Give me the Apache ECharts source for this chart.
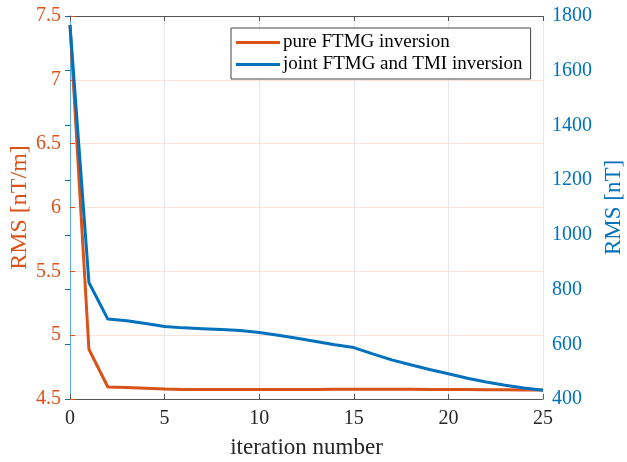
<!DOCTYPE html>
<html>
<head>
<meta charset="utf-8">
<script src="https://cdn.jsdelivr.net/npm/echarts@6/dist/echarts.min.js"></script>
<style>html,body{margin:0;padding:0;background:#fff}#c{width:627px;height:462px}</style>
</head>
<body>
<div id="c"></div>
<script>
const iterations = [0,1,2,3,4,5,6,7,8,9,10,11,12,13,14,15,16,17,18,19,20,21,22,23,24,25];
const pureFTMG = [7.43,4.89,4.594,4.59,4.585,4.578,4.575,4.574,4.574,4.574,4.574,4.574,4.575,4.575,4.576,4.576,4.576,4.576,4.576,4.575,4.575,4.574,4.573,4.572,4.571,4.570];
const jointFTMG_TMI = [1767,826,692,686,676,665,660,657,654,650,643,633,622,610,598,588,565,543,525,508,492,476,462,450,440,432];
const xTicks = {min:0,max:25,interval:5};
const leftTicks = {min:4.5,max:7.5,interval:0.5};
const rightTicks = {min:400,max:1800,interval:200};
const names = ['pure FTMG inversion','joint FTMG and TMI inversion'];

const ORANGE = '#D95319', BLUE = '#0072BD';
const serif = 'Liberation Serif';
const chart = echarts.init(document.getElementById('c'), null, {renderer:'canvas'});
chart.setOption({
  animation:false,
  backgroundColor:'#fff',
  grid:{left:70,right:84,top:16,bottom:63,containLabel:false,outerBoundsMode:'none'},
  legend:{
    data:[{name:names[0],icon:'rect'},{name:names[1],icon:'rect'}],
    orient:'vertical',left:231,top:28,
    itemWidth:44,itemHeight:3,itemGap:3,
    padding:[5,8,5,5],
    borderColor:'#444',borderWidth:1,backgroundColor:'#fff',
    textStyle:{fontFamily:serif,fontSize:19,color:'#000',padding:[0,0,0,-2]}
  },
  xAxis:[{
    type:'value',min:xTicks.min,max:xTicks.max,interval:xTicks.interval,
    name:'iteration number',nameLocation:'middle',nameGap:37,nameMoveOverlap:false,
    nameTextStyle:{fontFamily:serif,fontSize:23,color:'#262626'},
    axisLine:{show:true,lineStyle:{color:'#555',width:1}},
    axisTick:{show:true,inside:true,length:5,lineStyle:{color:'#555'}},
    axisLabel:{fontFamily:serif,fontSize:20,color:'#262626',margin:10},
    splitLine:{show:true,lineStyle:{color:'#e6e6e6',width:1}}
  },{
    type:'value',position:'top',min:xTicks.min,max:xTicks.max,interval:xTicks.interval,
    axisLine:{show:true,lineStyle:{color:'#555',width:1}},
    axisTick:{show:true,inside:true,length:5,lineStyle:{color:'#555'}},
    axisLabel:{show:false},splitLine:{show:false}
  }],
  yAxis:[{
    type:'value',position:'left',min:leftTicks.min,max:leftTicks.max,interval:leftTicks.interval,
    name:'RMS [nT/m]',nameLocation:'middle',nameRotate:90,nameGap:38,nameMoveOverlap:false,
    nameTextStyle:{fontFamily:serif,fontSize:24,color:ORANGE},
    axisLine:{show:true,lineStyle:{color:'#E8835A',width:1}},
    axisTick:{show:true,inside:true,length:5,lineStyle:{color:ORANGE}},
    axisLabel:{fontFamily:serif,fontSize:20,color:ORANGE,margin:9},
    splitLine:{show:true,lineStyle:{color:'#f9e3d9',width:1}}
  },{
    type:'value',position:'right',min:rightTicks.min,max:rightTicks.max,interval:rightTicks.interval,
    name:'RMS [nT]',nameLocation:'middle',nameRotate:90,nameGap:59,nameMoveOverlap:false,
    nameTextStyle:{fontFamily:serif,fontSize:23,color:BLUE},
    axisLine:{show:true,lineStyle:{color:'#5AA9E0',width:1}},
    axisTick:{show:true,inside:true,length:5,lineStyle:{color:BLUE}},
    axisLabel:{fontFamily:serif,fontSize:20,color:BLUE,margin:9,formatter:v=>String(v)},
    splitLine:{show:false}
  }],
  series:[{
    name:names[0],type:'line',xAxisIndex:0,yAxisIndex:0,
    data:iterations.map((x,i)=>[x,pureFTMG[i]]),
    showSymbol:false,symbol:'none',
    lineStyle:{color:ORANGE,width:3},itemStyle:{color:ORANGE},z:3
  },{
    name:names[1],type:'line',xAxisIndex:0,yAxisIndex:1,
    data:iterations.map((x,i)=>[x,jointFTMG_TMI[i]]),
    showSymbol:false,symbol:'none',
    lineStyle:{color:BLUE,width:3},itemStyle:{color:BLUE},z:4
  }]
});
</script>
</body>
</html>
